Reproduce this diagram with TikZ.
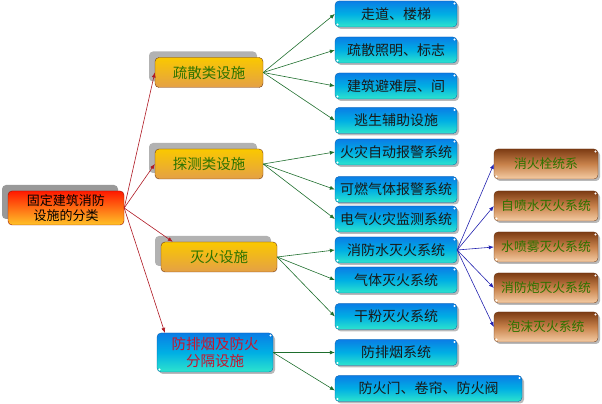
\documentclass[tikz,border=0pt]{standalone}
\usepackage{fontspec}
\setmainfont{Noto Sans CJK SC}
\usetikzlibrary{shadows,arrows.meta,calc}
\definecolor{redline}{RGB}{175,25,35}
\definecolor{greenline}{RGB}{30,110,45}
\definecolor{blueline}{RGB}{35,35,175}
\definecolor{bluetop}{RGB}{10,125,230}
\definecolor{bluemid}{RGB}{0,175,228}
\definecolor{bluebot}{RGB}{45,228,205}
\definecolor{browntop}{RGB}{125,60,20}
\definecolor{brownmid}{RGB}{200,130,75}
\definecolor{brownbot}{RGB}{245,205,165}
\definecolor{goldtop}{RGB}{250,200,0}
\definecolor{goldbot}{RGB}{228,160,70}
\definecolor{roottop}{RGB}{255,25,0}
\definecolor{rootbot}{RGB}{255,195,40}
\definecolor{txtgreen}{RGB}{45,115,0}
\definecolor{txtred}{RGB}{200,20,45}
\begin{document}
\begin{tikzpicture}[x=1pt,y=1pt,
  glint/.style={path picture={
    \fill[white] ($(path picture bounding box.north east)+(-2.5,-2.5)$) circle (1.1pt);
    \fill[white] ($(path picture bounding box.south west)+(2.5,2.5)$) circle (1.1pt);}},
  basebox/.style={rounded corners=4pt, inner sep=0pt, align=center,
    drop shadow={shadow xshift=2pt, shadow yshift=-2pt, fill=black!45, opacity=0.6}},
  bluebox/.style={basebox, glint, draw=bluetop!70!black, line width=0.3pt,
    top color=bluetop, bottom color=bluebot, middle color=bluemid,
    minimum width=122pt, minimum height=26pt, font=\fontsize{14}{16}\selectfont, text=black!90},
  brownbox/.style={basebox, glint, draw=browntop!80!black, line width=0.3pt,
    top color=browntop, bottom color=brownbot, middle color=brownmid,
    minimum width=104pt, minimum height=30pt, font=\fontsize{12.8}{15}\selectfont, text=txtgreen},
  catbox/.style={rounded corners=4pt, inner sep=0pt, align=center,
    general shadow={shadow xshift=-6pt, shadow yshift=6pt, fill=black!30},
    draw=browntop!90!black, line width=0.4pt,
    top color=goldtop, bottom color=goldbot,
    minimum width=108pt, minimum height=30pt, font=\fontsize{14.5}{16}\selectfont, text=txtgreen},
  rootbox/.style={rounded corners=4pt, inner sep=0pt, align=center,
    general shadow={shadow xshift=-6pt, shadow yshift=6pt, fill=black!40},
    draw=roottop!60!black, line width=0.4pt,
    top color=roottop, bottom color=rootbot,
    minimum width=116pt, minimum height=34pt, font=\fontsize{13}{15.5}\selectfont, text=black},
  redarr/.style={draw=redline, line width=0.6pt, -{Latex[length=5pt,width=4pt]}},
  greenarr/.style={draw=greenline, line width=0.6pt, -{Latex[length=5pt,width=4pt]}},
  bluearr/.style={draw=blueline, line width=0.6pt, -{Latex[length=5pt,width=4pt]}}
]
\useasboundingbox (0,0) rectangle (602,404);

% root
\node[rootbox] (root) at (66,196) {固定建筑消防\\设施的分类};

% categories
\node[catbox] (c1) at (209,331.5) {疏散类设施};
\node[catbox] (c2) at (209,240) {探测类设施};
\node[catbox, minimum width=116pt] (c3) at (219,147) {灭火设施};
\node[basebox, glint, draw=bluetop!70!black, line width=0.3pt,
    top color=bluetop, bottom color=bluebot, middle color=bluemid,
    minimum width=116pt, minimum height=39pt, font=\fontsize{14.5}{17}\selectfont, text=txtred]
    (c4) at (215,51.5) {防排烟及防火\\分隔设施};

% right column
\node[bluebox] (r1) at (396,390) {走道、楼梯};
\node[bluebox] (r2) at (396,354) {疏散照明、标志};
\node[bluebox] (r3) at (396,318) {建筑避难层、间};
\node[bluebox] (r4) at (396,283.5) {逃生辅助设施};
\node[bluebox] (r5) at (396,252) {火灾自动报警系统};
\node[bluebox] (r6) at (396,214.5) {可燃气体报警系统};
\node[bluebox] (r7) at (396,185) {电气火灾监测系统};
\node[bluebox] (r8) at (396,154) {消防水灭火系统};
\node[bluebox] (r9) at (396,124) {气体灭火系统};
\node[bluebox] (r10) at (396,87.5) {干粉灭火系统};
\node[bluebox] (r11) at (396,51.5) {防排烟系统};
\node[bluebox, minimum width=187pt] (r12) at (428.5,15.5) {防火门、卷帘、防火阀};

% brown column
\node[brownbox] (b1) at (546,240) {消火栓统系};
\node[brownbox] (b2) at (546,198) {自喷水灭火系统};
\node[brownbox] (b3) at (546,157) {水喷雾灭火系统};
\node[brownbox] (b4) at (546,116) {消防炮灭火系统};
\node[brownbox] (b5) at (546,77) {泡沫灭火系统};

% connectors
\draw[redarr] (root.east) -- (c1.west);
\draw[redarr] (root.east) -- (c2.west);
\draw[redarr] (root.east) -- ($(c3.north west)+(12,0)$);
\draw[redarr] (root.east) -- ($(c4.north west)+(8,0)$);

\foreach \t in {r1,r2,r3,r4} \draw[greenarr] (c1.east) -- (\t.west);
\foreach \t in {r5,r6,r7} \draw[greenarr] (c2.east) -- (\t.west);
\foreach \t in {r8,r9,r10} \draw[greenarr] (c3.east) -- (\t.west);
\draw[greenarr] (c4.east) -- (r11.west);
\draw[greenarr] (c4.east) -- ($(r12.west)+(0,-2)$);

\foreach \t in {b1,b2,b3,b4,b5} \draw[bluearr] (r8.east) -- (\t.west);
\end{tikzpicture}
\end{document}
